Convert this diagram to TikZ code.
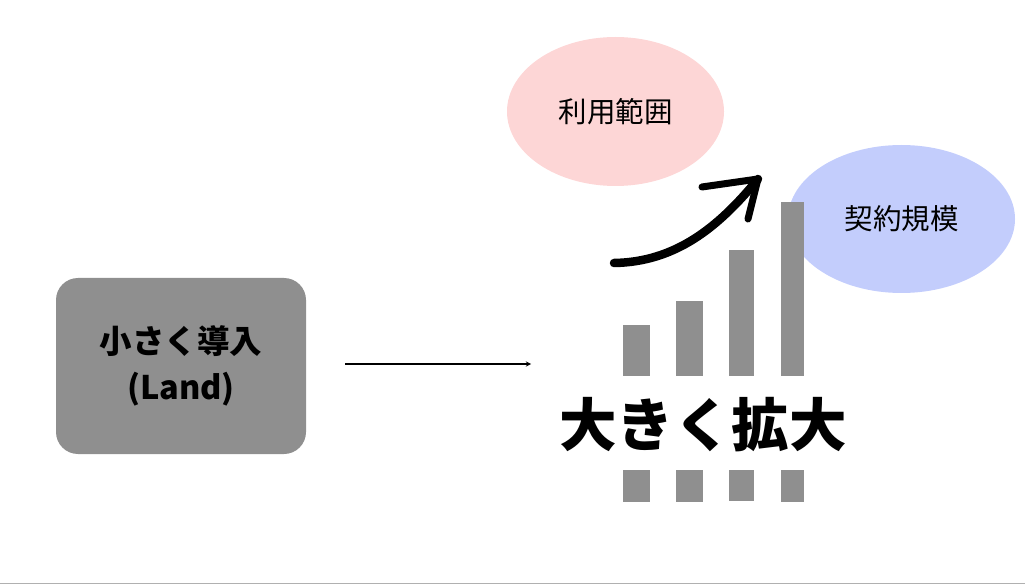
\documentclass[tikz,border=0pt]{standalone}
\usepackage{fontspec}
\usepackage{xcolor}
\usetikzlibrary{shapes.geometric}
\newfontfamily\jpfont{Noto Sans CJK JP}
\definecolor{barGray}{HTML}{8F8F8F}
\definecolor{scopePink}{HTML}{FDD6D6}
\definecolor{scaleBlue}{HTML}{C3CDFC}
\definecolor{rulerGray}{HTML}{B0B0B0}
\tikzset{
  bar/.style={fill=barGray, draw=none},
  bubble/.style={ellipse, draw=none, inner sep=0pt, font=\jpfont\fontsize{28.5}{34}\selectfont},
}

\begin{document}
\begin{tikzpicture}[x=1pt, y=-1pt]
  \useasboundingbox (0,0) rectangle (1025,585);

  % Bottom rule
  \draw[rulerGray, line width=1.5pt] (0,583.5) -- (1025,583.5);

  % Start box
  \node[fill=barGray, rounded corners=22pt, minimum width=250pt, minimum height=176pt,
        inner sep=0pt, align=center, font=\jpfont\bfseries\fontsize{32.5}{46}\selectfont]
        (land) at (181,366) {小さく導入\\(Land)};

  % Connector to the growth side
  \coordinate (lineStart) at (345,364);
  \coordinate (lineEnd) at (531,364);
  \draw[line width=1.3pt, -stealth] (lineStart) -- (lineEnd);

  % Blue ellipse sits behind the bars
  \node[bubble, fill=scaleBlue, minimum width=227pt, minimum height=148pt] (scale) at (901.5,219) {契約規模};
  \node[bubble, fill=scopePink, minimum width=217pt, minimum height=149pt] (scope) at (615.5,111.5) {利用範囲};

  % Growing bars
  \fill[bar] (623,325) rectangle (650,376);
  \fill[bar] (676,301) rectangle (703,376);
  \fill[bar] (729,250) rectangle (754,376);
  \fill[bar] (781,202) rectangle (804,376);

  % Bars below the label
  \fill[bar] (623,470) rectangle (650,502);
  \fill[bar] (676,470) rectangle (703,502);
  \fill[bar] (729,470) rectangle (754,501);
  \fill[bar] (781,470) rectangle (804,502);

  % Label
  \node[font=\jpfont\bfseries\fontsize{57.5}{62}\selectfont, inner sep=0pt] (grow) at (703,425) {大きく拡大};

  % Hand-drawn arrow
  \coordinate (tailA) at (614,263);
  \coordinate (tipA) at (758,179);
  \draw[line width=8.5pt, line cap=round, line join=round]
    (tailA) .. controls (675,262) and (718,228) .. (tipA);
  \draw[line width=7pt, line cap=round, line join=round]
    (702,187) -- (tipA) -- (748,219);
\end{tikzpicture}
\end{document}
